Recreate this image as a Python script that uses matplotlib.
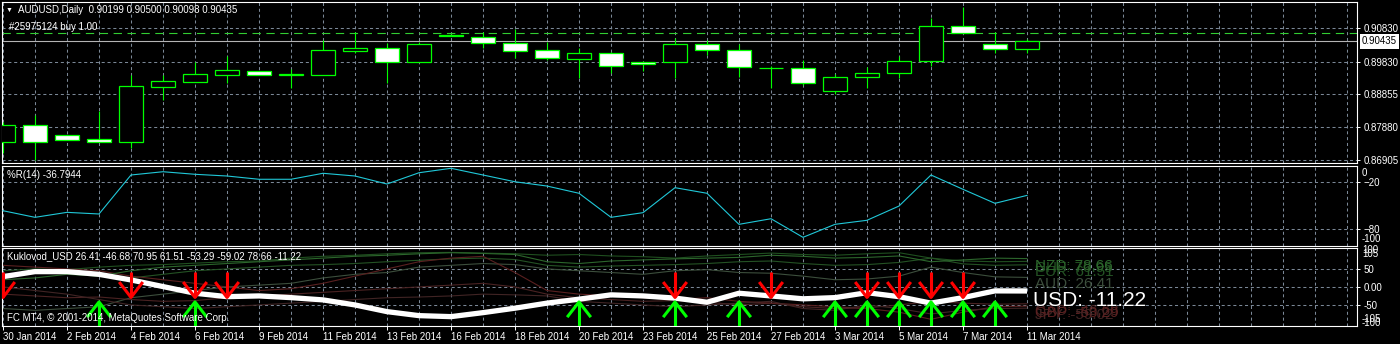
import numpy as np
import matplotlib.pyplot as plt
from matplotlib.patches import Rectangle

plt.rcParams['font.family'] = ['Liberation Sans', 'DejaVu Sans']
plt.rcParams['lines.scale_dashes'] = False

# ===== data =====
symbol = "AUDUSD,Daily"
order_text = "#25975124 buy 1.00"
date_labels = ["30 Jan 2014", "2 Feb 2014", "4 Feb 2014", "6 Feb 2014", "9 Feb 2014",
               "11 Feb 2014", "13 Feb 2014", "16 Feb 2014", "18 Feb 2014", "20 Feb 2014",
               "23 Feb 2014", "25 Feb 2014", "27 Feb 2014", "3 Mar 2014", "5 Mar 2014",
               "7 Mar 2014", "11 Mar 2014"]

opens = [0.87449, 0.87937, 0.87648, 0.87529, 0.87449, 0.89085, 0.89233, 0.89441, 0.89551,
         0.89424, 0.89441, 0.90155, 0.90226, 0.89810, 0.90607, 0.90571, 0.90375, 0.90167,
         0.89917, 0.90078, 0.89819, 0.89810, 0.90345, 0.90167, 0.89655, 0.89632, 0.88948,
         0.89364, 0.89483, 0.89840, 0.90889, 0.90345, 0.90199]
highs = [0.88035, 0.88243, 0.87648, 0.88371, 0.89441, 0.89432, 0.89810, 0.89997, 0.89551,
         0.89602, 0.90473, 0.90702, 0.90375, 0.90423, 0.90640, 0.90702, 0.90791, 0.90423,
         0.90226, 0.90125, 0.89849, 0.90524, 0.90473, 0.90345, 0.89709, 0.89878, 0.89462,
         0.89679, 0.89997, 0.91118, 0.91446, 0.90702, 0.90500]
lows = [0.87113, 0.86905, 0.87509, 0.87449, 0.87253, 0.88689, 0.89233, 0.89203, 0.89424,
        0.89037, 0.89441, 0.90078, 0.89203, 0.89810, 0.90590, 0.90226, 0.89929, 0.89878,
        0.89352, 0.89501, 0.89560, 0.89352, 0.90027, 0.89382, 0.89037, 0.89135, 0.88859,
        0.89037, 0.89352, 0.89709, 0.90672, 0.90098, 0.90098]
closes = [0.87937, 0.87449, 0.87509, 0.87449, 0.89105, 0.89254, 0.89462, 0.89581, 0.89424,
          0.89462, 0.90176, 0.90235, 0.89810, 0.90354, 0.90601, 0.90375, 0.90155, 0.89929,
          0.90078, 0.89691, 0.89751, 0.90345, 0.90167, 0.89661, 0.89645, 0.89186, 0.89364,
          0.89483, 0.89840, 0.90889, 0.90672, 0.90199, 0.90435]

price_levels = [0.90830, 0.89830, 0.88855, 0.87880, 0.86905]
order_price = 0.90681

wpr = [-56.5, -65.0, -58.6, -60.7, -10.6, -6.4, -9.7, -11.9, -16.1, -16.1, -8.4, -11.9,
       -22.2, -7.7, -2.0, -10.6, -19.3, -24.8, -34.1, -65.0, -59.0, -26.9, -34.1, -74.0,
       -66.8, -90.7, -74.0, -68.8, -50.5, -10.6, -29.0, -47.0, -36.7944]

# Kuklovod currency strength lines
aud = [-60, -65, -60, -55, -30, -20, -10, 0, 5, 10, 25, 35, 40, 55, 60, 65, 62, 50, 45, 40,
       35, 45, 48, 40, 38, 30, 20, 22, 30, 55, 40, 28, 26.41]
cad = [-20, -25, -30, -28, -35, -40, -38, -30, -25, -20, -15, -10, -5, 0, 5, 10, 0, -20, -30,
       -35, -40, -38, -42, -50, -45, -55, -60, -58, -50, -40, -45, -48, -46.68]
chf = [45, 50, 48, 55, 60, 62, 66, 70, 72, 80, 85, 88, 92, 95, 96, 94, 92, 88, 90, 86, 84,
       80, 86, 90, 94, 90, 88, 92, 95, 80, 72, 70, 70.95]
eur = [35, 40, 38, 30, 25, 35, 45, 50, 55, 60, 62, 65, 70, 74, 78, 80, 76, 60, 55, 58, 60,
       62, 65, 70, 72, 65, 60, 62, 68, 80, 64, 60, 61.51]
gbp = [60, 55, 50, 45, 30, 20, 10, 0, -10, -5, 10, 30, 50, 70, 80, 85, 40, -10, -20, -25,
       -30, -35, -30, -40, -45, -50, -55, -60, -70, -90, -70, -55, -53.29]
jpy = [0, -10, -20, -35, -50, -55, -60, -55, -50, -45, -40, -35, -30, -28, -25, -20, -22,
       -25, -40, -45, -50, -55, -50, -45, -40, -60, -65, -50, -60, -75, -65, -60, -59.02]
nzd = [20, 25, 35, 30, 45, 55, 60, 65, 70, 75, 80, 85, 88, 92, 95, 93, 90, 70, 65, 72, 75,
       78, 80, 82, 88, 85, 80, 82, 86, 70, 75, 80, 78.66]
usd = [28.6, 42.5, 42.5, 35, 19.4, 1, -17.5, -27, -25, -29.7, -36, -50, -68.6, -79.7, -82.5,
       -71.4, -59, -45, -34, -22, -25, -31, -42.5, -17.5, -25, -33, -29.7, -16, -27, -45,
       -29.7, -11, -11.22]

sell_bars = [0, 4, 6, 7, 21, 24, 27, 28, 29, 30]
buy_bars = [3, 6, 18, 21, 23, 26, 27, 28, 29, 30, 31]

# ===== layout helpers =====
W, H = 1400, 344
fig = plt.figure(figsize=(W / 100, H / 100), dpi=100, facecolor='black')
FS = 7
GRID = dict(color='#7a8796', lw=0.75, dashes=(2.2, 2.0), zorder=1)
XMIN = -1 / 32
XMAX = XMIN + 1355 / 32
n = len(closes)


def panel(y0, y1):
    ax = fig.add_axes([2 / W, 1 - y1 / H, 1355 / W, (y1 - y0) / H])
    ax.set_facecolor('black')
    for s in ax.spines.values():
        s.set_color('white')
        s.set_linewidth(0.8)
    ax.set_xlim(XMIN, XMAX)
    for i in range(int(XMAX) + 1):
        ax.axvline(i, **GRID)
    ax.yaxis.tick_right()
    ax.tick_params(axis='y', colors='white', length=2, width=0.7, pad=2.5, labelsize=FS)
    ax.tick_params(axis='x', bottom=False, labelbottom=False)
    return ax


def side_label(ax, txt, v):
    ax.annotate(txt, xy=(1, v), xycoords=('axes fraction', 'data'), xytext=(5, 0),
                textcoords='offset pixels', color='white', fontsize=FS, va='center',
                ha='left', annotation_clip=False)


def ftext(x, y, s, size=FS):
    fig.text(x / W, 1 - y / H, s, color='white', fontsize=size, va='center', ha='left')


# ===== 1) price panel =====
ax1 = panel(2, 163)
ax1.set_ylim(0.86816, 0.91603)
ax1.set_yticks(price_levels)
ax1.set_yticklabels([f"{p:.5f}" for p in price_levels])
for p in price_levels:
    ax1.axhline(p, **GRID)
ax1.axhline(order_price, color='#32cd32', lw=0.8, dashes=(6, 4), zorder=2)
ax1.axhline(closes[-1], color='#b4b4b4', lw=0.8, zorder=2)

for i in range(n):
    o, h, l, c = opens[i], highs[i], lows[i], closes[i]
    ax1.vlines(i, l, h, color='#00ff00', lw=0.8, zorder=3)
    ax1.add_patch(Rectangle((i - 0.365, min(o, c)), 0.73, abs(c - o),
                            facecolor='black' if c >= o else 'white',
                            edgecolor='#00ff00', lw=0.9, zorder=4))

ax1.annotate(f"{closes[-1]:.5f}", xy=(1, closes[-1]), xycoords=('axes fraction', 'data'),
             xytext=(5, 0), textcoords='offset pixels', color='black', fontsize=FS,
             va='center', ha='left', annotation_clip=False,
             bbox=dict(boxstyle='square,pad=0.25', facecolor='white', edgecolor='none'))

ftext(6, 10, "\u25bc", size=5)
ftext(18, 10, f"{symbol}  {opens[-1]:.5f} {highs[-1]:.5f} {lows[-1]:.5f} {closes[-1]:.5f}")
ftext(9, 27, order_text)

# ===== 2) Williams %R =====
ax2 = panel(165.5, 245.5)
ax2.set_ylim(-101.2, 1.6)
ax2.set_yticks([-20, -80])
for v in [-20, -80]:
    ax2.axhline(v, **GRID)
ax2.plot(range(n), wpr, color='#20c8d8', lw=0.8, zorder=3)
side_label(ax2, "0", -7.6)
side_label(ax2, "-100", -92.5)
ftext(7, 175, f"%R(14) {wpr[-1]:.4f}")

# ===== 3) Kuklovod currency strength =====
ax3 = panel(247.5, 326)
ax3.set_ylim(-108.5, 109.5)
ax3.set_yticks([50, 0, -50])
ax3.set_yticklabels(["50", "0.00", "-50"])
for v in [50, 0, -50]:
    ax3.axhline(v, **GRID)
side_label(ax3, "100", 103)
side_label(ax3, "105", 91)
side_label(ax3, "-105", -90)
side_label(ax3, "-100", -99)

curr = [("AUD", aud, '#3c4e3c'), ("CAD", cad, '#4a2222'), ("CHF", chf, '#1f4f1f'),
        ("EUR", eur, '#245224'), ("GBP", gbp, '#5a2020'), ("JPY", jpy, '#402424'),
        ("NZD", nzd, '#2c662c')]
for name, vals, col in curr:
    ax3.plot(range(n), vals, color=col, lw=0.8, zorder=2)
ax3.plot(range(n), usd, color='white', lw=3.8, zorder=3, solid_capstyle='butt')

# signal arrows
for b in sell_bars:
    ax3.plot([b, b], [41.7, -29.2], color='#ff0000', lw=2.2, zorder=4, solid_capstyle='butt')
    ax3.plot([b - 0.34, b, b + 0.34], [10.3, -29.2, 10.3], color='#ff0000', lw=2.2, zorder=4)
for b in buy_bars:
    ax3.plot([b, b], [-41.7, -115], color='#00ff00', lw=2.2, zorder=4, solid_capstyle='butt')
    ax3.plot([b - 0.34, b, b + 0.34], [-80.6, -41.7, -80.6], color='#00ff00', lw=2.2, zorder=4)

# labels at the right end of the lines (usd on top)
for name, vals, col in [curr[1], curr[5], curr[4], curr[2], curr[0], curr[3], curr[6]]:
    ax3.text(32.25, vals[-1], f"{name}: {vals[-1]:.2f}", color=col, fontsize=11,
             va='top', ha='left', zorder=5)
ax3.text(32.2, usd[-1], f"USD: {usd[-1]:.2f}", color='white', fontsize=15,
         va='top', ha='left', zorder=6)

vals_txt = " ".join(f"{v[-1]:.2f}" for v in [aud, cad, chf, eur, gbp, jpy, nzd, usd])
ftext(7, 256, f"Kuklovod_USD {vals_txt}")
ftext(7, 318, "FC MT4, \u00a9 2001-2014, MetaQuotes Software Corp.")

# date axis
ax3.set_xticks(range(0, n, 2))
ax3.set_xticklabels(date_labels)
ax3.tick_params(axis='x', bottom=True, labelbottom=True, colors='white', length=3,
                width=0.7, pad=1.5, labelsize=FS)
for t in ax3.get_xticklabels():
    t.set_ha('left')

fig.savefig("out.png", dpi=100, facecolor='black')
